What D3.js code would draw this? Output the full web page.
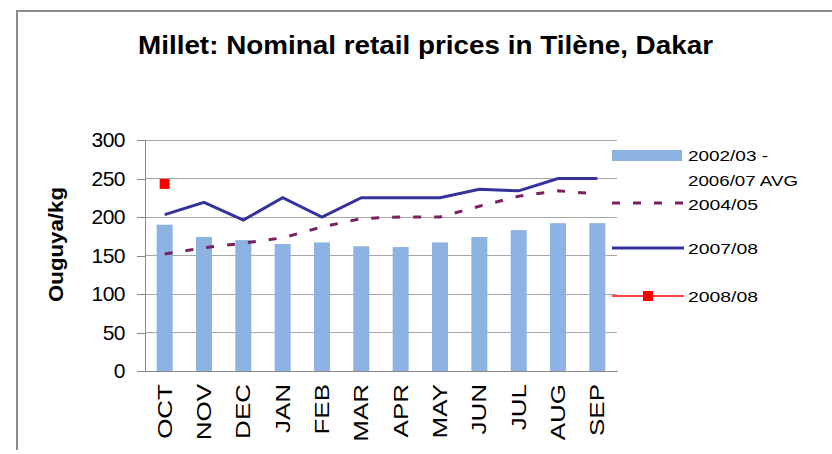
<!DOCTYPE html>
<html lang="en">
<head>
    <meta charset="UTF-8">
    <title>millet prices</title>
    <script src="https://cdnjs.cloudflare.com/ajax/libs/d3/7.8.5/d3.min.js"></script>
    <style>
        body { margin: 0; background: #fff; }
        svg text { font-family: "Liberation Sans", Arial, sans-serif; fill: #000; }
        .axis path, .axis line { fill: none; stroke: #888; shape-rendering: crispEdges; }
        .grid line { stroke: #a6a6a6; shape-rendering: crispEdges; }
    </style>
</head>
<body>
    <svg class="chart"></svg>
    <script>
        const months = ['OCT', 'NOV', 'DEC', 'JAN', 'FEB', 'MAR', 'APR', 'MAY', 'JUN', 'JUL', 'AUG', 'SEP'];
        const avg0207 = [190, 174, 170, 165, 167, 162, 161, 167, 174, 183, 192, 192];
        const s0405 = [152, 160, 166, 173, 187, 198, 200, 200, 214, 227, 234, 230];
        const s0708 = [203, 219, 196, 225, 200, 225, 225, 225, 236, 234, 250, 250];
        const s0808 = [243];
        const yTicks = [0, 50, 100, 150, 200, 250, 300];

        const W = 832, H = 454;
        const margin = {top: 140, left: 145};
        const width = 472, height = 231;

        const svg = d3.select('.chart').attr('width', W).attr('height', H);

        // frame
        svg.append('path')
            .attr('d', 'M17,450V11H840')
            .attr('fill', 'none')
            .attr('stroke', '#8c8c8c')
            .attr('stroke-width', 2);

        svg.append('text')
            .attr('x', 425.5).attr('y', 54)
            .attr('text-anchor', 'middle')
            .attr('textLength', 575).attr('lengthAdjust', 'spacingAndGlyphs')
            .style('font-size', '26px').style('font-weight', 'bold')
            .text('Millet: Nominal retail prices in Tilène, Dakar');

        const x = d3.scaleBand().domain(months).range([0, width]);
        const y = d3.scaleLinear().domain([0, 300]).range([height, 0]);

        const chart = svg.append('g').attr('transform', `translate(${margin.left}, ${margin.top})`);

        chart.append('g').attr('class', 'grid')
            .selectAll('line').data(yTicks.slice(1)).enter().append('line')
            .attr('x1', 0).attr('x2', width)
            .attr('y1', d => y(d)).attr('y2', d => y(d));

        const barW = 16;
        chart.selectAll('.bar').data(avg0207).enter().append('rect')
            .attr('class', 'bar')
            .attr('fill', '#8db3e2')
            .attr('x', (d, i) => x(months[i]) + x.bandwidth() / 2 - barW / 2)
            .attr('y', d => y(d))
            .attr('width', barW)
            .attr('height', d => height - y(d));

        const cx = i => x(months[i]) + x.bandwidth() / 2;

        const line = d3.line().x((d, i) => cx(i)).y(d => y(d));

        chart.append('path').datum(s0405)
            .attr('d', line)
            .attr('fill', 'none').attr('stroke', '#7b2060')
            .attr('stroke-width', 3).attr('stroke-dasharray', '8,13');

        chart.append('path').datum(s0708)
            .attr('d', line)
            .attr('fill', 'none').attr('stroke', '#333399')
            .attr('stroke-width', 3);

        chart.selectAll('.pt').data(s0808).enter().append('rect')
            .attr('fill', '#ff0000')
            .attr('x', (d, i) => cx(i) - 5).attr('y', d => y(d) - 5)
            .attr('width', 10).attr('height', 10);

        // axes
        const yAxis = d3.axisLeft(y).tickValues(yTicks).tickSize(8).tickPadding(12);
        const gy = chart.append('g').attr('class', 'axis').call(yAxis);
        gy.selectAll('text').style('font-size', '21px').style('letter-spacing', '-0.5px');

        const xAxis = d3.axisBottom(x).tickSize(0).tickPadding(0);
        const gx = chart.append('g').attr('class', 'axis')
            .attr('transform', `translate(0, ${height})`).call(xAxis);
        gx.selectAll('text')
            .style('font-size', '20px')
            .attr('text-anchor', 'end')
            .attr('transform', 'rotate(-90) scale(1.3, 1)')
            .attr('x', -10).attr('y', 0).attr('dy', '0.35em');

        svg.append('text')
            .attr('transform', 'translate(63, 244.5) rotate(-90)')
            .attr('text-anchor', 'middle')
            .attr('textLength', 115).attr('lengthAdjust', 'spacingAndGlyphs')
            .style('font-size', '20px').style('font-weight', 'bold')
            .text('Ouguya/kg');

        // legend
        const lg = svg.append('g').attr('transform', 'translate(612, 0)');
        lg.append('rect').attr('x', 0).attr('y', 150).attr('width', 70).attr('height', 11).attr('fill', '#8db3e2');
        lg.append('line').attr('x1', 0).attr('x2', 72).attr('y1', 203).attr('y2', 203)
            .attr('stroke', '#7b2060').attr('stroke-width', 3).attr('stroke-dasharray', '8,13');
        lg.append('line').attr('x1', 0).attr('x2', 72).attr('y1', 248).attr('y2', 248)
            .attr('stroke', '#333399').attr('stroke-width', 3);
        lg.append('line').attr('x1', 0).attr('x2', 72).attr('y1', 296).attr('y2', 296)
            .attr('stroke', '#ff0000').attr('stroke-width', 1.5);
        lg.append('rect').attr('x', 31).attr('y', 291).attr('width', 10).attr('height', 10).attr('fill', '#ff0000');

        const labels = [['2002/03 -', 161, 80], ['2006/07 AVG', 186, 110], ['2004/05', 210, 70], ['2007/08', 254, 70], ['2008/08', 302, 70]];
        lg.selectAll('.lt').data(labels).enter().append('text')
            .attr('x', 76).attr('y', d => d[1])
            .attr('textLength', d => d[2]).attr('lengthAdjust', 'spacingAndGlyphs')
            .style('font-size', '15px')
            .text(d => d[0]);
    </script>
</body>
</html>
